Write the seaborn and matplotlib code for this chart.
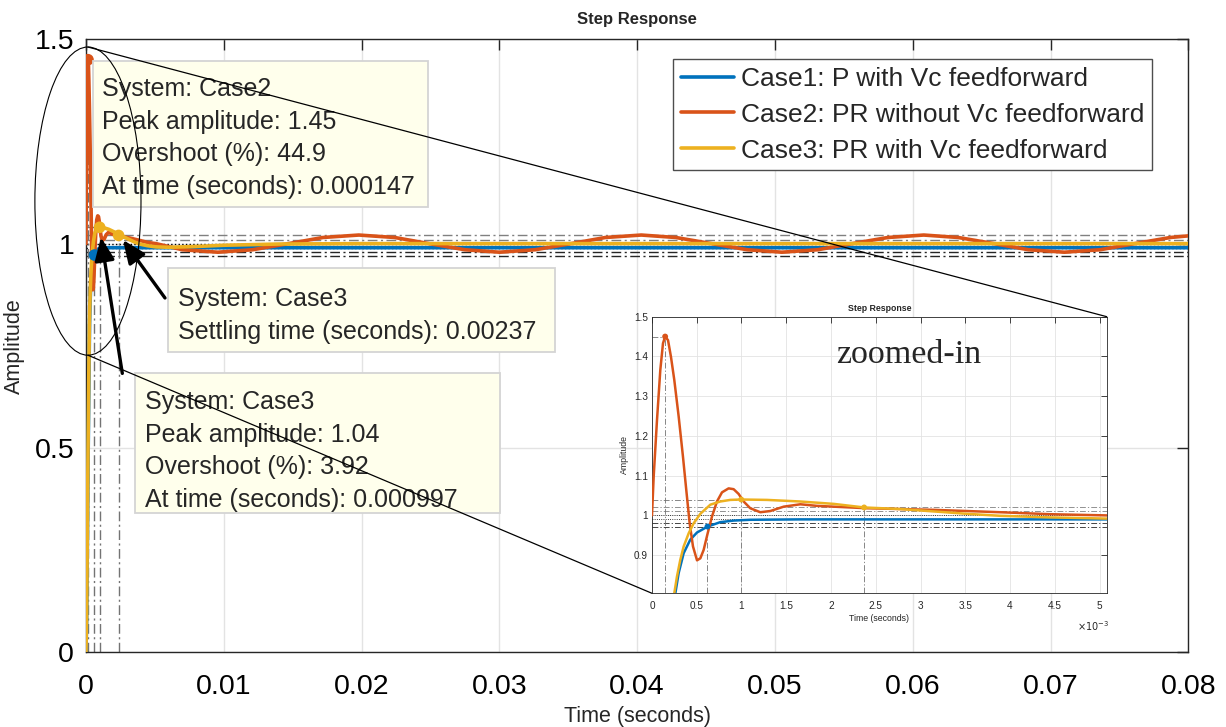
import numpy as np
import pandas as pd
import matplotlib
matplotlib.use('Agg')
import matplotlib.pyplot as plt
import seaborn as sns
from matplotlib.patches import Ellipse, ConnectionPatch, Rectangle
from matplotlib.lines import Line2D

# step response readings, time in ms
t1 = [0, 0.05, 0.10, 0.15, 0.20, 0.261, 0.298, 0.354, 0.428, 0.503, 0.622, 0.763, 0.912, 1.098, 1.657, 80.0]
y1 = [0, 0.08, 0.26, 0.45, 0.62, 0.804, 0.855, 0.905, 0.939, 0.957, 0.972, 0.983, 0.987, 0.989, 0.990, 0.990]

t2 = [0, 0.019, 0.056, 0.093, 0.123, 0.147, 0.179, 0.212, 0.249, 0.298, 0.346, 0.383, 0.421, 0.458,
      0.503, 0.540, 0.577, 0.622, 0.670, 0.726, 0.782, 0.856, 0.912, 0.968, 1.024, 1.098, 1.210, 1.322,
      1.471, 1.657, 1.843, 2.401, 3.146, 3.890, 4.45, 5.08, 7.0, 9.57, 12.1, 14.7, 17.2, 19.8, 22.4,
      24.9, 27.5, 30.0, 32.6, 35.2, 37.7, 40.3, 42.8, 45.4, 48.0, 50.5, 53.1, 55.6, 58.2, 60.8, 63.3,
      65.9, 68.4, 71.0, 73.6, 76.1, 78.7, 80.0]
y2 = [1.0, 1.098, 1.240, 1.366, 1.433, 1.45, 1.441, 1.399, 1.341, 1.249, 1.148, 1.064, 0.980, 0.922,
      0.887, 0.892, 0.913, 0.955, 0.997, 1.035, 1.058, 1.068, 1.066, 1.054, 1.035, 1.018, 1.008, 1.011,
      1.022, 1.028, 1.024, 1.018, 1.014, 1.008, 1.003, 1.0, 0.985, 0.979, 0.985, 1.0, 1.015, 1.021, 1.015,
      1.0, 0.985, 0.979, 0.985, 1.0, 1.015, 1.021, 1.015, 1.0, 0.985, 0.979, 0.985, 1.0, 1.015, 1.021, 1.015,
      1.0, 0.985, 0.979, 0.985, 1.0, 1.015, 1.019]

t3 = [0, 0.05, 0.10, 0.15, 0.20, 0.249, 0.279, 0.316, 0.354, 0.41, 0.465, 0.54, 0.652, 0.763, 0.875,
      0.997, 1.284, 1.657, 2.03, 2.37, 2.774, 3.146, 3.518, 3.89, 4.449, 5.082, 6.0, 8.0, 10.0, 14.0, 20.0, 80.0]
y3 = [0, 0.09, 0.29, 0.49, 0.66, 0.804, 0.846, 0.888, 0.922, 0.955, 0.98, 1.004, 1.027, 1.035, 1.039,
      1.04, 1.039, 1.035, 1.029, 1.02, 1.016, 1.010, 1.004, 0.999, 0.995, 0.992, 0.991, 0.993, 0.996, 0.999, 1.0, 1.0]

names = ['Case1: P with Vc feedforward', 'Case2: PR without Vc feedforward', 'Case3: PR with Vc feedforward']
cores = ['#0072BD', '#D95319', '#EDB120']

# datatip points (ms)
mark_t = [0.147, 0.62, 0.997, 2.37]
mark_y = [1.45, 0.972, 1.04, 1.02]
mark_case = [names[1], names[0], names[2], names[2]]
peak_t = [0.147, 0.997]
peak_y = [1.45, 1.04]

band_hi = [1.02, 1.01]
band_lo = [0.98, 0.97]
steady = [1.0, 0.99]

xt_main = [0, 0.01, 0.02, 0.03, 0.04, 0.05, 0.06, 0.07, 0.08]
xt_main_lab = ['0', '0.01', '0.02', '0.03', '0.04', '0.05', '0.06', '0.07', '0.08']
yt_main = [0, 0.5, 1, 1.5]
yt_main_lab = ['0', '0.5', '1', '1.5']
xt_in = [0, 0.5, 1, 1.5, 2, 2.5, 3, 3.5, 4, 4.5, 5]
xt_in_lab = ['0', '0.5', '1', '1.5', '2', '2.5', '3', '3.5', '4', '4.5', '5']
yt_in = [0.9, 1.0, 1.1, 1.2, 1.3, 1.4, 1.5]
yt_in_lab = ['0.9', '1', '1.1', '1.2', '1.3', '1.4', '1.5']

dicas = ['System: Case2\nPeak amplitude: 1.45\nOvershoot (%): 44.9\nAt time (seconds): 0.000147',
         'System: Case3\nSettling time (seconds): 0.00237',
         'System: Case3\nPeak amplitude: 1.04\nOvershoot (%): 3.92\nAt time (seconds): 0.000997']

sns.set_style('white')
plt.rcParams['font.family'] = ['Liberation Sans', 'DejaVu Sans']

pal = dict(zip(names, cores))
dados = pd.concat([
    pd.DataFrame({'t': np.array(t1) / 1000, 'y': y1, 'case': names[0]}),
    pd.DataFrame({'t': np.array(t2) / 1000, 'y': y2, 'case': names[1]}),
    pd.DataFrame({'t': np.array(t3) / 1000, 'y': y3, 'case': names[2]}),
], ignore_index=True)
marcas = pd.DataFrame({'t': np.array(mark_t) / 1000, 'y': mark_y, 'case': mark_case})

fig = plt.figure(figsize=(12.26, 7.27), dpi=100)
ax = fig.add_axes([0.0701, 0.1027, 0.8992, 0.8433])
axin = fig.add_axes([0.5318, 0.1839, 0.3709, 0.3805], zorder=3)

tracejado = (0, (7, 2.5, 1.5, 2.5))


def desenha(a, lw, ms, xmax, lref):
    a.grid(True, color='#e3e3e3', lw=lref)
    a.set_axisbelow(True)
    for y in band_hi:
        a.axhline(y, color='0.5', ls=tracejado, lw=lref, zorder=1.5)
    for y in band_lo:
        a.axhline(y, color='0.15', ls=tracejado, lw=lref, zorder=1.5)
    for y in steady:
        a.axhline(y, color='k', ls=':', lw=lref, zorder=1.5)
    a.vlines(marcas['t'], 0, marcas['y'], color='0.45', ls=tracejado, lw=lref, zorder=1.5)
    a.hlines(peak_y, 0, np.array(peak_t) / 1000, color='0.45', ls=tracejado, lw=lref, zorder=1.5)
    sns.lineplot(data=dados, x='t', y='y', hue='case', palette=pal, estimator=None, sort=False,
                 lw=lw, legend=False, ax=a, zorder=3)
    sns.scatterplot(data=marcas, x='t', y='y', hue='case', palette=pal, s=ms, edgecolor='none',
                    legend=False, ax=a, zorder=4)
    a.set_xlim(0, xmax)
    for s in a.spines.values():
        s.set_color('0.15')
        s.set_linewidth(lref)


# eixo principal
desenha(ax, 2.6, 70, 0.08, 1.0)
ax.set_ylim(0, 1.5)
ax.set_xticks(xt_main, xt_main_lab)
ax.set_yticks(yt_main, yt_main_lab)
ax.tick_params(direction='in', length=8, width=1, top=True, right=True, labelsize=20.5, colors='0.15')
ax.tick_params(axis='x', pad=15.5, labelcolor='k')
ax.tick_params(axis='y', pad=8.5, labelcolor='k')
ax.set_title('Step Response', fontsize=12, fontweight='bold', pad=11)
ax.set_xlabel('Time (seconds)', fontsize=15.5)
ax.set_ylabel('Amplitude', fontsize=15.5)
ax.xaxis.set_label_coords(0.5, -0.088)
ax.yaxis.set_label_coords(-0.0555, 0.5)

handles = [Line2D([], [], color=c, lw=2.6) for c in cores]
leg = ax.legend(handles, names, loc='upper right', bbox_to_anchor=(0.967, 0.968), borderaxespad=0,
                fontsize=19, fancybox=False, edgecolor='0.3', framealpha=1, handlelength=2.0,
                handletextpad=0.25, labelspacing=0.45, borderpad=0.3)
leg.get_frame().set_linewidth(1)

# caixas de datatip (fracao do eixo)
caixas = [(0.00635, 0.7264, 0.3039, 0.2382), (0.0744, 0.4899, 0.3511, 0.137), (0.0445, 0.2272, 0.3311, 0.2284)]
posicoes = [(0.0145, 0.9384), (0.0835, 0.5959), (0.0535, 0.4279)]
for txt, (bx, by, bw, bh), (px, py) in zip(dicas, caixas, posicoes):
    ax.add_patch(Rectangle((bx, by), bw, bh, transform=ax.transAxes, fc='#ffffec', ec='#d4d4d4',
                           lw=1.3, zorder=6))
    ax.text(px, py, txt, transform=ax.transAxes, ha='left', va='top', fontsize=18, color='0.15',
            linespacing=1.45, zorder=6.5)

setas = [((0.0336, 0.6726), (0.0717, 0.578)), ((0.0136, 0.677), (0.033, 0.455))]
for cabeca, cauda in setas:
    ax.annotate('', xy=cabeca, xytext=cauda, xycoords='axes fraction', textcoords='axes fraction',
                arrowprops=dict(arrowstyle='-|>,head_length=0.7,head_width=0.3', color='k', lw=2.4,
                                mutation_scale=20, shrinkA=0, shrinkB=0), zorder=8)

ax.add_patch(Ellipse((0.000145, 1.104), 0.0077, 0.754, fill=False, ec='k', lw=0.8, zorder=7,
                     clip_on=False))

# inset ampliado
desenha(axin, 1.8, 18, 0.00508, 0.6)
axin.set_ylim(0.804, 1.5)
axin.set_xticks(np.array(xt_in) / 1000, xt_in_lab)
axin.set_yticks(yt_in, yt_in_lab)
axin.tick_params(direction='in', length=4, width=0.6, top=True, right=True, labelsize=7.2, colors='0.15')
axin.tick_params(axis='x', pad=5.5)
axin.tick_params(axis='y', pad=3)
axin.set_title('Step Response', fontsize=6.3, fontweight='bold', pad=4)
axin.set_xlabel('Time (seconds)', fontsize=6.3)
axin.set_ylabel('Amplitude', fontsize=6.3)
axin.xaxis.set_label_coords(0.5, -0.075)
axin.yaxis.set_label_coords(-0.05, 0.5)
axin.text(0.97, -0.095, r'$\times10^{-3}$', transform=axin.transAxes, ha='center', va='top', fontsize=7)
axin.text(0.565, 0.862, 'zoomed-in', transform=axin.transAxes, ha='center', va='center',
          fontsize=24.5, family='Liberation Serif')

for xa, xb in [((0.000145, 1.481), (1, 1)), ((0.000145, 0.727), (0, 0))]:
    con = ConnectionPatch(xyA=xa, coordsA=ax.transData, xyB=xb, coordsB=axin.transAxes,
                          color='k', lw=0.9, zorder=2)
    fig.add_artist(con)

fig.savefig('out.png', dpi=100)
